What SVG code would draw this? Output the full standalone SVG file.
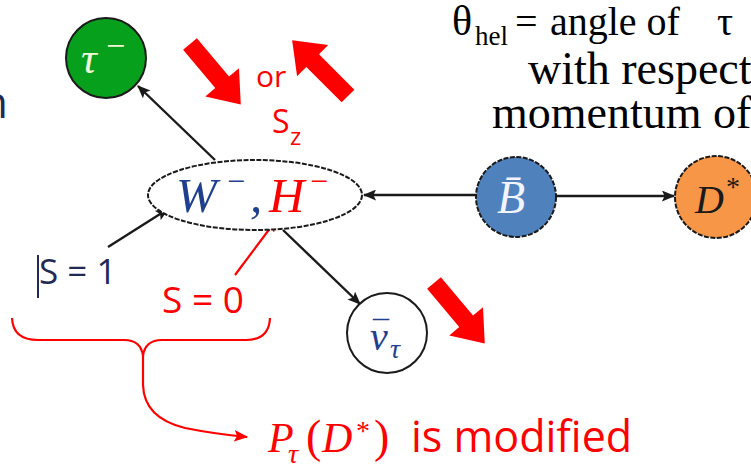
<svg xmlns="http://www.w3.org/2000/svg" width="751" height="466" viewBox="0 0 751 466">
<style>
.serif{font-family:"Liberation Serif","Times New Roman",serif}
.math{font-family:"Liberation Serif","Times New Roman",serif;font-style:italic}
.sans{font-family:"Open Sans","Liberation Sans",Arial,sans-serif}
.conn{stroke:#1a1a1a;stroke-width:2.4;fill:none}
.red{stroke:#ff0000;stroke-width:2.2;fill:none}
</style>
<defs>
<marker id="ah" viewBox="0 0 12 10" refX="11" refY="5" markerWidth="14" markerHeight="11" markerUnits="userSpaceOnUse" orient="auto">
<path d="M0,0 L12,5 L0,10 L2.5,5 z" fill="#1a1a1a"/>
</marker>
<marker id="ahr" viewBox="0 0 12 10" refX="11" refY="5" markerWidth="14" markerHeight="12" markerUnits="userSpaceOnUse" orient="auto">
<path d="M0,0 L12,5 L0,10 L2.5,5 z" fill="#ff0000"/>
</marker>
<polygon id="bigarrow" points="0,-9 50,-9 50,-22 79,0 50,22 50,9 0,9"/>
</defs>

<!-- partial word at left edge -->
<text class="sans" x="-19" y="118" font-size="44" fill="#1f2a55">n</text>

<!-- explanatory text -->
<g id="label-theta">
<text class="serif" font-size="40" fill="#000">
<tspan x="452" y="35" font-size="42">θ</tspan><tspan x="475" y="45" font-size="27">hel</tspan><tspan x="515" y="35">=</tspan><tspan x="550" y="35">angle of</tspan><tspan x="717" y="35">τ</tspan>
</text>
<text class="serif" font-size="46" fill="#000" x="528" y="84">with respect</text>
<text class="serif" font-size="46" fill="#000" x="492" y="128">momentum of</text>
</g>

<!-- connectors -->
<g id="connectors">
<line class="conn" x1="215" y1="160" x2="138" y2="86" marker-end="url(#ah)"/>
<line class="conn" x1="476" y1="195" x2="364" y2="195" marker-end="url(#ah)"/>
<line class="conn" x1="556" y1="196" x2="674" y2="196" marker-end="url(#ah)"/>
<line class="conn" x1="283" y1="230" x2="360" y2="304" marker-end="url(#ah)"/>
<line class="conn" x1="108" y1="247" x2="168" y2="209" marker-end="url(#ah)"/>
<line class="red" x1="235" y1="275" x2="277" y2="219" marker-end="url(#ahr)"/>
<path class="red" d="M12,318 Q13,340 38,340 L124,340 Q141,340 143,356 Q145,340 162,340 L246,340 Q269,340 270,318"/>
<path class="red" d="M143,356 L143,385 Q144,418 185,428 Q215,434 247,437" marker-end="url(#ahr)"/>
</g>

<!-- spin arrows -->
<g id="spin-arrows" fill="#ff0000">
<use href="#bigarrow" transform="translate(190,44) rotate(50)"/>
<use href="#bigarrow" transform="translate(348,96) rotate(225)"/>
<use href="#bigarrow" transform="translate(434,283) rotate(50)"/>
</g>

<g id="label-or"><text class="sans" x="256" y="87" font-size="30" fill="#ff0000">or</text></g>
<g id="label-sz"><text class="sans" font-size="32" fill="#ff0000"><tspan x="272" y="133">S</tspan><tspan x="290" y="145" font-size="24">z</tspan></text></g>

<!-- tau node -->
<g id="node-tau">
<circle cx="106" cy="58" r="40" fill="#07a01c" stroke="#1a1a1a" stroke-width="2"/>
<text class="math" font-size="44" fill="#f4f6d8"><tspan x="81" y="73">τ</tspan><tspan x="106" y="57" font-size="34" font-style="normal">−</tspan></text>
</g>

<!-- W/H ellipse node -->
<g id="node-wh">
<ellipse cx="255" cy="195" rx="107" ry="35" fill="#fff" stroke="#1a1a1a" stroke-width="2" stroke-dasharray="5 1.5"/>
<text class="math" font-size="49"><tspan x="176" y="212" fill="#1f3f8f">W</tspan><tspan x="227" y="192" font-size="32" font-style="normal" fill="#1f3f8f">−</tspan><tspan x="250" y="212" fill="#1f3f8f">,</tspan><tspan x="269" y="212" fill="#ff0000">H</tspan><tspan x="310" y="192" font-size="32" font-style="normal" fill="#ff0000">−</tspan></text>
</g>

<!-- B bar node -->
<g id="node-b">
<circle cx="516" cy="197" r="40" fill="#4f81bd" stroke="#1a1a1a" stroke-width="2" stroke-dasharray="5 1.5"/>
<text class="math" font-size="46" fill="#f2f4ff" x="497" y="213">B&#x304;</text>
</g>

<!-- D* node -->
<g id="node-dstar">
<circle cx="716" cy="197" r="41" fill="#f79646" stroke="#1a1a1a" stroke-width="2" stroke-dasharray="5 1.5"/>
<text class="math" font-size="40" fill="#1a1a1a"><tspan x="695" y="213">D</tspan><tspan x="726" y="196" font-size="28" font-style="normal">*</tspan></text>
</g>

<!-- nu bar node -->
<g id="node-nu">
<circle cx="387" cy="333" r="40" fill="#fff" stroke="#1a1a1a" stroke-width="2"/>
<text class="math" font-size="40" fill="#1f3f8f"><tspan x="370" y="350">ν</tspan><tspan x="373" y="343" font-size="32" font-style="normal">¯</tspan><tspan x="390" y="358" font-size="28">τ</tspan></text>
</g>

<!-- spin labels -->
<g id="label-s1">
<line x1="38" y1="255" x2="38" y2="298" stroke="#1f2a55" stroke-width="2"/>
<text class="sans" x="39" y="284" font-size="35" fill="#1f2a55">S = 1</text>
</g>
<g id="label-s0"><text class="sans" x="162" y="313" font-size="37" fill="#ff0000">S = 0</text></g>

<!-- conclusion -->
<g id="label-result">
<text font-size="42" fill="#ff0000"><tspan class="math" x="268" y="452">P</tspan><tspan class="math" x="288" y="463" font-size="28">τ</tspan><tspan class="serif" x="306" y="452" font-size="46">(</tspan><tspan class="math" x="322" y="452">D</tspan><tspan class="serif" x="356" y="440" font-size="28">*</tspan><tspan class="serif" x="374" y="452" font-size="46">)</tspan><tspan class="sans" x="411" y="452" font-size="43">is modified</tspan></text>
</g>
</svg>
